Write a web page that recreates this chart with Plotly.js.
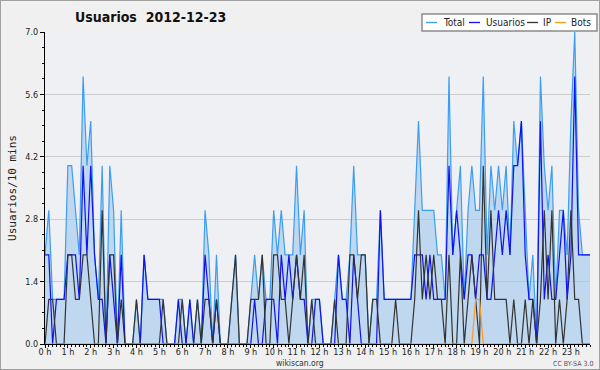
<!DOCTYPE html>
<html>
<head>
<meta charset="utf-8">
<script src="https://cdn.plot.ly/plotly-3.0.1.min.js"></script>
<style>
html,body{margin:0;padding:0;background:#f0f0f0;}
#wrap{position:relative;width:600px;height:370px;}
#frame{position:absolute;left:0;top:0;width:600px;height:370px;box-sizing:border-box;border:1px solid #a0a0a0;pointer-events:none;}
</style>
</head>
<body>
<div id="wrap"><div id="chart" style="width:600px;height:370px;"></div><div id="frame"></div></div>
<script>
// 10-minute slots, 0h00 .. 23h50
const total = [2,3,1,1,1,1, 4,4,3,2,6,4, 5,2,1,4,0,4, 3,0,3,0,0,0,
               1,0,2,1,1,1, 1,1,0,0,0,1, 1,0,1,0,1,0, 3,2,0,2,0,0,
               0,1,2,0,0,0, 1,2,1,2,1,1, 3,2,3,2,2,2, 4,2,3,0,1,1,
               1,0,0,0,1,2, 1,1,2,4,2,2, 2,0,1,1,3,1, 1,1,1,1,1,1,
               1,3,5,3,3,3, 3,2,2,1,6,2, 3,4,1,3,4,3, 3,6,2,4,3,4,
               3,4,2,5,4,5, 3,1,2,0,6,4, 3,4,1,3,3,2, 5,7,3,2,2,2];
const usuarios = [2,2,0,1,1,1, 2,2,2,1,4,2, 4,2,1,1,0,2, 1,0,2,0,0,0,
                  0,0,2,1,1,1, 1,0,0,0,0,1, 0,0,1,0,0,0, 2,1,0,1,0,0,
                  0,0,0,0,0,0, 0,1,0,0,1,1, 1,0,2,1,2,1, 2,1,1,0,0,1,
                  1,0,0,0,0,2, 1,1,0,2,1,0, 0,0,0,0,3,1, 1,1,1,1,1,1,
                  1,2,2,2,1,2, 1,1,1,1,4,2, 3,2,1,2,2,1, 2,2,1,1,2,3,
                  2,3,2,4,4,5, 2,1,1,0,5,1, 2,1,1,2,3,1, 2,6,2,2,2,2];
const ip = [0,1,1,0,0,0, 2,2,1,1,2,2, 1,0,0,3,0,2, 2,0,1,0,0,0,
            1,0,0,0,0,0, 0,1,0,0,0,0, 1,0,0,0,1,0, 1,1,0,1,0,0,
            0,1,2,0,0,0, 1,1,1,2,0,0, 2,2,1,1,0,1, 2,1,2,0,1,0,
            0,0,0,0,1,0, 0,0,2,2,1,2, 2,0,1,1,0,0, 0,0,1,0,0,0,
            0,1,3,1,2,1, 2,1,1,0,2,0, 0,2,0,1,2,1, 0,4,1,3,1,1,
            1,1,0,1,0,0, 1,0,1,0,1,3, 1,3,0,1,0,1, 3,1,1,0,0,0];
const bots = [0,0,0,0,0,0, 0,0,0,0,0,0, 0,0,0,0,0,0, 0,0,0,0,0,0,
              0,0,0,0,0,0, 0,0,0,0,0,0, 0,0,0,0,0,0, 0,0,0,0,0,0,
              0,0,0,0,0,0, 0,0,0,0,0,0, 0,0,0,0,0,0, 0,0,0,0,0,0,
              0,0,0,0,0,0, 0,0,0,0,0,0, 0,0,0,0,0,0, 0,0,0,0,0,0,
              0,0,0,0,0,0, 0,0,0,0,0,0, 0,0,0,0,0,1, 1,0,0,0,0,0,
              0,0,0,0,0,0, 0,0,0,0,0,0, 0,0,0,0,0,0, 0,0,0,0,0,0];
const seriesNames = ['Total', 'Usuarios', 'IP', 'Bots'];
const seriesColors = ['#3d9df2', '#1010f0', '#333333', '#ff9a1a'];
const hourVals = [0,1,2,3,4,5,6,7,8,9,10,11,12,13,14,15,16,17,18,19,20,21,22,23];
const hourLabels = hourVals.map(h => h + ' h');
const yTicks = [0, 1.4, 2.8, 4.2, 5.6, 7.0];
const yLabels = ['0.0','1.4','2.8','4.2','5.6','7.0'];

const x = total.map((_, i) => i / 6);
const F = 'DejaVu Sans Condensed, DejaVu Sans, sans-serif';
const W = 600, H = 370;
const L = 45, R = 10, T = 32, B = 26;
const pw = W - L - R, ph = H - T - B;
const px = v => (v - L) / pw;          // container px -> paper x
const py = v => (H - B - v) / ph;      // container px -> paper y

const data = [total, usuarios, ip, bots];
const traces = data.map((d, k) => {
  const t = {x: x, y: d, name: seriesNames[k], type: 'scatter', mode: 'lines',
             line: {color: seriesColors[k], width: 1.2}, showlegend: false};
  if (k === 0) { t.fill = 'tozeroy'; t.fillcolor = 'rgba(160,200,236,0.6)'; }
  return t;
});

// compact legend like the reference (box, short line swatches, labels)
const legLine = [426, 469, 527, 555];
const legText = [441, 484, 541, 569];
const shapes = [{type: 'rect', xref: 'paper', yref: 'paper', x0: px(422), x1: px(597), y0: py(31), y1: py(14),
                 fillcolor: '#ffffff', line: {color: '#8a8a8a', width: 1.5}, layer: 'above'}];
const annotations = [];
seriesNames.forEach((n, k) => {
  shapes.push({type: 'line', xref: 'paper', yref: 'paper', x0: px(legLine[k]), x1: px(legLine[k] + 11),
               y0: py(22.5), y1: py(22.5), line: {color: seriesColors[k], width: 1.3}, layer: 'above'});
  annotations.push({text: n, xref: 'paper', yref: 'paper', x: px(legText[k]), y: py(22.5),
                    xanchor: 'left', yanchor: 'middle', showarrow: false,
                    font: {family: F, size: 10, color: '#222'}});
});
annotations.push({text: 'wikiscan.org', xref: 'paper', yref: 'paper', x: px(300), y: py(362.5),
  xanchor: 'center', yanchor: 'middle', showarrow: false, font: {family: F, size: 8.5, color: '#333'}});
annotations.push({text: 'CC BY-SA 3.0', xref: 'paper', yref: 'paper', x: px(595), y: py(364),
  xanchor: 'right', yanchor: 'middle', showarrow: false, font: {family: F, size: 7, color: '#555'}});

const layout = {
  width: W, height: H,
  margin: {l: L, r: R, t: T, b: B, pad: 0},
  paper_bgcolor: '#f0f0f0', plot_bgcolor: '#eef0f3',
  font: {family: F, size: 9, color: '#222'},
  title: {text: '<b>Usuarios  2012-12-23</b>', x: 75/W, xanchor: 'left', xref: 'container',
          y: 1 - 17/H, yanchor: 'middle', yref: 'container', font: {family: F, size: 14, color: '#111'}},
  showlegend: false,
  xaxis: {range: [0, 143/6], tickvals: hourVals, ticktext: hourLabels, showgrid: false,
          zeroline: false, showline: true, linecolor: '#000', linewidth: 1,
          ticks: 'outside', ticklen: 3, tickcolor: '#000', tickfont: {family: F, size: 9},
          ticklabelstandoff: -4,
          minor: {dtick: 1/6, ticks: 'outside', ticklen: 2, tickcolor: '#000', showgrid: false},
          fixedrange: true},
  yaxis: {range: [0, 7], tickvals: yTicks, ticktext: yLabels, showgrid: true, gridcolor: '#cccccc',
          zeroline: false, showline: true, linecolor: '#000', linewidth: 1,
          ticks: 'outside', ticklen: 4, tickcolor: '#000', tickfont: {family: F, size: 9},
          minor: {dtick: 0.35, tick0: 0, ticks: 'outside', ticklen: 2, tickcolor: '#000', showgrid: false},
          title: {text: 'Usuarios/10 mins', font: {family: 'DejaVu Sans Mono, monospace', size: 11}, standoff: 6},
          fixedrange: true},
  shapes: shapes,
  annotations: annotations
};

Plotly.newPlot('chart', traces, layout, {displayModeBar: false, staticPlot: true});
</script>
</body>
</html>
